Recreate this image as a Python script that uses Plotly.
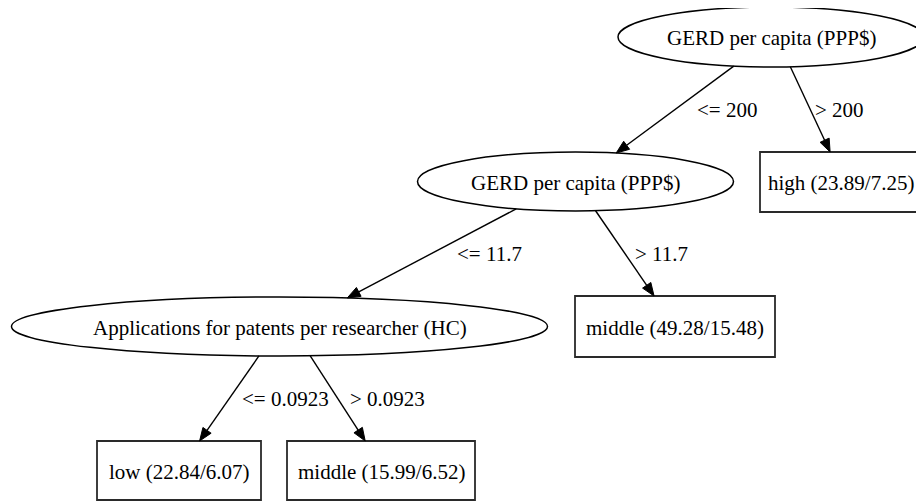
import math
import plotly.graph_objects as go

# ---------------- data ----------------
node_ids = ["root", "gerd2", "patents", "high", "mid1", "low", "mid2"]
node_labels = [
    "GERD per capita (PPP$)",
    "GERD per capita (PPP$)",
    "Applications for patents per researcher (HC)",
    "high (23.89/7.25)",
    "middle (49.28/15.48)",
    "low (22.84/6.07)",
    "middle (15.99/6.52)",
]
node_kinds = ["split", "split", "split", "leaf", "leaf", "leaf", "leaf"]

edge_parents = ["root", "root", "gerd2", "gerd2", "patents", "patents"]
edge_children = ["gerd2", "high", "patents", "mid1", "low", "mid2"]
edge_labels = ["<= 200", "> 200", "<= 11.7", "> 11.7", "<= 0.0923", "> 0.0923"]

# ---------------- layout (pixels: centre x, centre y, half width, half height) ----------------
node_geom = {
    "root": (771, 37, 153, 30),
    "gerd2": (575.5, 181.5, 158, 29.5),
    "patents": (279.5, 326.5, 268, 29.5),
    "high": (840.5, 182, 80.5, 30),
    "mid1": (675, 326.5, 100, 30.5),
    "low": (179, 470.5, 82, 29.5),
    "mid2": (381, 470.5, 94, 29.5),
}
# left x of each edge label (label sits vertically midway between the ranks)
edge_label_x = [695, 813, 455, 633, 240, 348]
# small horizontal port adjustments (tail, head) mimicking the original router
edge_port_shift = [(2, 2), (5, 4), (-3, 9), (0, 0), (0, 0), (10, 5)]

W, H = 924, 501
PAGE_OFFSET = 8  # default body margin of the html page
FONT = dict(family="Liberation Serif, Times New Roman, serif", size=21, color="black")
ARROW_LEN, ARROW_HALF = 13, 5

kind_of = dict(zip(node_ids, node_kinds))


def clip(nid, dx, dy):
    cx, cy, a, b = node_geom[nid]
    if kind_of[nid] == "split":
        t = 1.0 / math.sqrt((dx / a) ** 2 + (dy / b) ** 2)
    else:
        t = min(a / abs(dx) if dx else 1e9, b / abs(dy) if dy else 1e9)
    return t


def port(nid, x, y, shift, below):
    cx, cy, a, b = node_geom[nid]
    x = x + shift
    if kind_of[nid] == "split":
        r = max(0.0, 1 - ((x - cx) / a) ** 2)
        y = cy + (1 if below else -1) * b * math.sqrt(r)
    return x, y


fig = go.Figure()
shapes = []
annotations = []

# nodes
for nid, label in zip(node_ids, node_labels):
    cx, cy, a, b = node_geom[nid]
    if kind_of[nid] == "split":
        shapes.append(dict(type="circle", xref="x", yref="y", x0=cx - a, x1=cx + a,
                           y0=cy - b, y1=cy + b, line=dict(color="black", width=1.5),
                           fillcolor="rgba(0,0,0,0)"))
    else:
        shapes.append(dict(type="rect", xref="x", yref="y", x0=cx - a, x1=cx + a,
                           y0=cy - b, y1=cy + b, line=dict(color="#2a2a2a", width=1.8),
                           fillcolor="rgba(0,0,0,0)"))
    annotations.append(dict(x=cx, y=cy + 1, xref="x", yref="y", text=label, showarrow=False,
                            font=FONT, xanchor="center", yanchor="middle"))

# edges
for p, c, lab, lx, (ts, hs) in zip(edge_parents, edge_children, edge_labels,
                                    edge_label_x, edge_port_shift):
    pcx, pcy, pa, pb = node_geom[p]
    ccx, ccy, ca, cb = node_geom[c]
    dx, dy = ccx - pcx, ccy - pcy
    t0 = clip(p, dx, dy)
    t1 = clip(c, -dx, -dy)
    sx, sy = port(p, pcx + dx * t0, pcy + dy * t0, ts, True)
    ex, ey = port(c, ccx - dx * t1, ccy - dy * t1, hs, False)
    L = math.hypot(ex - sx, ey - sy)
    ux, uy = (ex - sx) / L, (ey - sy) / L
    bx, by = ex - ux * ARROW_LEN, ey - uy * ARROW_LEN
    shapes.append(dict(type="line", xref="x", yref="y", x0=sx, y0=sy, x1=bx, y1=by,
                       line=dict(color="black", width=1.4)))
    nx, ny = -uy, ux
    path = "M {:.2f} {:.2f} L {:.2f} {:.2f} L {:.2f} {:.2f} Z".format(
        ex, ey, bx + nx * ARROW_HALF, by + ny * ARROW_HALF, bx - nx * ARROW_HALF, by - ny * ARROW_HALF)
    shapes.append(dict(type="path", xref="x", yref="y", path=path,
                       line=dict(color="black", width=1), fillcolor="black"))
    # label midway between the ranks
    ly = ((pcy + pb) + (ccy - cb)) / 2
    annotations.append(dict(x=lx, y=ly, xref="x", yref="y", text=lab, showarrow=False,
                            font=FONT, xanchor="left", yanchor="middle"))

fig.update_layout(
    width=W, height=H,
    margin=dict(l=0, r=0, t=0, b=0),
    paper_bgcolor="white", plot_bgcolor="white",
    xaxis=dict(range=[PAGE_OFFSET, W + PAGE_OFFSET], visible=False, fixedrange=True),
    yaxis=dict(range=[H + PAGE_OFFSET, PAGE_OFFSET], visible=False, fixedrange=True),
    shapes=shapes, annotations=annotations,
    showlegend=False,
)

fig.write_html("out.html", config={"displayModeBar": False})
